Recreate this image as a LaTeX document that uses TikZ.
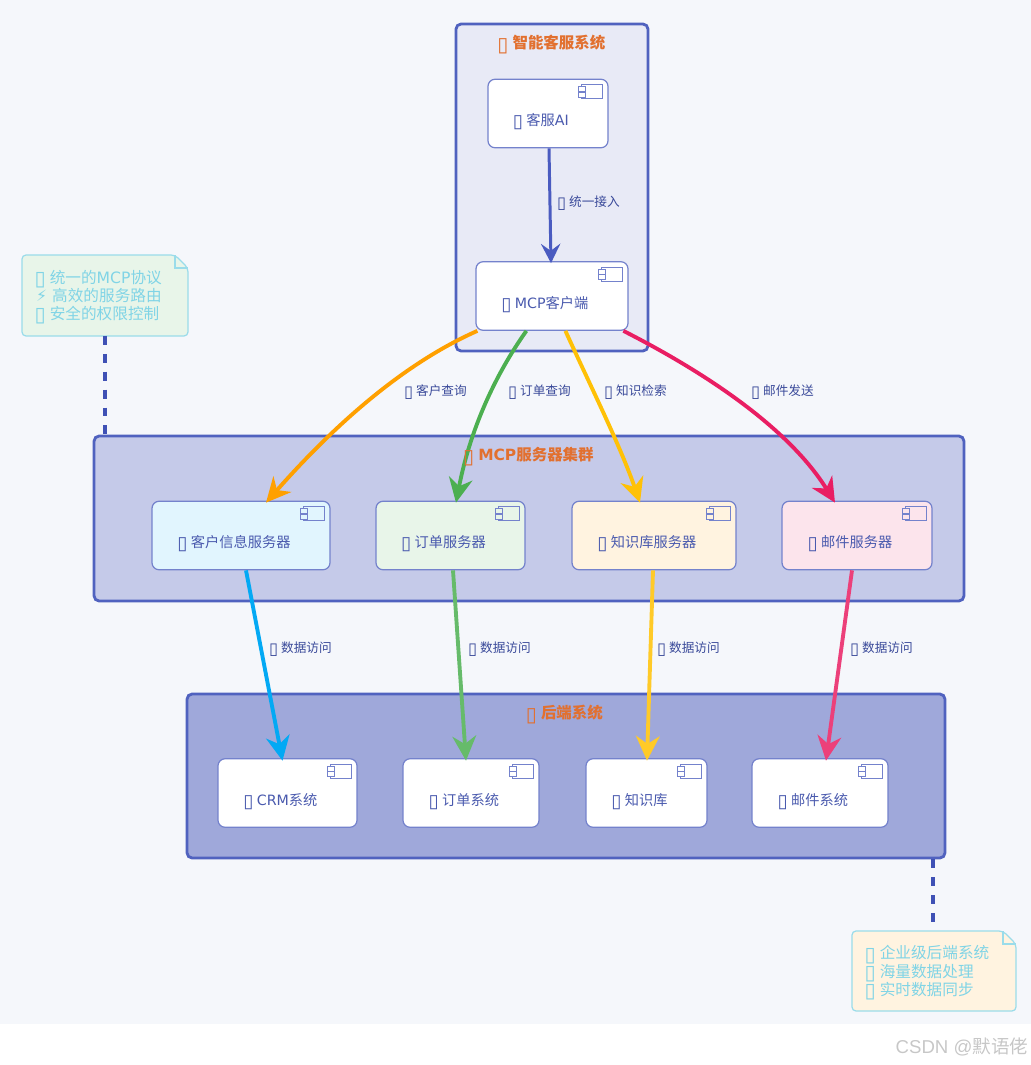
\documentclass[tikz,border=0pt]{standalone}
\usepackage{fontspec}
\setmainfont{DejaVu Sans}
\newfontfamily\cjk{Noto Sans CJK SC}
\newfontfamily\wmfont{Liberation Sans}
\usetikzlibrary{calc,positioning,arrows.meta}
\newcommand{\zh}[1]{{\cjk #1}}
\newcommand{\tofu}{\makebox[0.55em]{\smash{\raisebox{-0.14em}{\scalebox{1.3}{▯}}}}}
\definecolor{pagebg}{HTML}{F5F7FB}
\definecolor{groupline}{HTML}{5062BF}
\definecolor{boxline}{HTML}{7482CC}
\definecolor{boxtext}{HTML}{4A5AAE}
\definecolor{titletext}{HTML}{E2702F}
\definecolor{labeltext}{HTML}{3A4A9A}
\definecolor{noteline}{HTML}{9ADCEA}
\definecolor{notetext}{HTML}{80D4E6}
\definecolor{dashline}{HTML}{3F51B5}
\definecolor{grpai}{HTML}{E8EAF6}
\definecolor{grpcluster}{HTML}{C5CAE9}
\definecolor{grpbackend}{HTML}{9FA8DA}
\definecolor{srvblue}{HTML}{E1F5FE}
\definecolor{srvgreen}{HTML}{E8F5E9}
\definecolor{srvorange}{HTML}{FFF3E0}
\definecolor{srvpink}{HTML}{FCE4EC}
\definecolor{linkblue}{HTML}{4A5BC0}
\definecolor{linkorange}{HTML}{FFA000}
\definecolor{linkgreen}{HTML}{4CAF50}
\definecolor{linkamber}{HTML}{FFC107}
\definecolor{linkpink}{HTML}{E91E63}
\definecolor{datablue}{HTML}{03A9F4}
\definecolor{datagreen}{HTML}{66BB6A}
\definecolor{dataamber}{HTML}{FFCA28}
\definecolor{datapink}{HTML}{EC407A}
\tikzset{
  groupbox/.style={draw=groupline,line width=1.6pt,rounded corners=0.1cm,inner sep=0},
  grouptitle/.style={text=titletext,font=\fontsize{8.8}{10}\selectfont\bfseries},
  compbox/.style={draw=boxline,line width=0.7pt,rounded corners=0.14cm,inner sep=0,text=boxtext,
    font=\fontsize{8.1}{10}\selectfont,minimum height=1.37cm,text height=14.2pt,text depth=0pt,
    execute at begin node={\hspace*{-7.4pt}}},
  edgelabel/.style={text=labeltext,font=\fontsize{7.2}{9}\selectfont,inner sep=0},
  notebody/.style={draw=noteline,line width=0.7pt,rounded corners=0.08cm},
  notelabel/.style={text=notetext,font=\fontsize{8.9}{10.3}\selectfont,inner xsep=0.28cm,inner ysep=0,
    text width=2.76cm,align=left,minimum height=1.6cm},
  link/.style={line width=2.2pt,-{Stealth[length=14pt,width=13.5pt,inset=4.5pt]}},
  thinlink/.style={line width=1.7pt,-{Stealth[length=11pt,width=11pt,inset=4pt]}},
  notelink/.style={draw=dashline,line width=2.2pt,dash pattern=on 5.1pt off 5.1pt},
  compicon/.pic={
    \draw[draw=boxline,line width=0.55pt] (-21,0) rectangle (0,14);
    \draw[draw=boxline,line width=0.55pt,pic actions] (-24,2) rectangle (-17,7);
    \draw[draw=boxline,line width=0.55pt,pic actions] (-24,7.5) rectangle (-17,12.5);
  }
}
\begin{document}
\begin{tikzpicture}[x=0.02cm,y=-0.02cm]
\useasboundingbox (0,0) rectangle (1031,1065);
\fill[pagebg] (0,0) rectangle (1031,1024);
% groups
\node[groupbox,fill=grpai,minimum width=3.84cm,minimum height=6.54cm] (sysai) at (552,187.5) {};
\node[groupbox,fill=grpcluster,minimum width=17.4cm,minimum height=3.3cm] (cluster) at (529,518.5) {};
\node[groupbox,fill=grpbackend,minimum width=15.16cm,minimum height=3.28cm] (backend) at (566,776) {};
% components
\node[compbox,fill=white,minimum width=2.4cm] (kefuai) at (548,113.5) {\tofu{} \zh{客服}AI};
\node[compbox,fill=white,minimum width=3.04cm] (mcpclient) at (552,296) {\tofu{} MCP\zh{客户端}};
\node[compbox,fill=srvblue,minimum width=3.56cm] (srvcrm) at (241,535.5) {\tofu{} \zh{客户信息服务器}};
\node[compbox,fill=srvgreen,minimum width=2.98cm] (srvorder) at (450.5,535.5) {\tofu{} \zh{订单服务器}};
\node[compbox,fill=srvorange,minimum width=3.28cm] (srvkb) at (654,535.5) {\tofu{} \zh{知识库服务器}};
\node[compbox,fill=srvpink,minimum width=3cm] (srvmail) at (857,535.5) {\tofu{} \zh{邮件服务器}};
\node[compbox,fill=white,minimum width=2.78cm] (crm) at (287.5,793) {\tofu{} CRM\zh{系统}};
\node[compbox,fill=white,minimum width=2.72cm] (orderdb) at (471,793) {\tofu{} \zh{订单系统}};
\node[compbox,fill=white,minimum width=2.42cm] (kb) at (646.5,793) {\tofu{} \zh{知识库}};
\node[compbox,fill=white,minimum width=2.72cm] (maildb) at (820,793) {\tofu{} \zh{邮件系统}};
\foreach \n/\c in {kefuai/white,mcpclient/white,srvcrm/srvblue,srvorder/srvgreen,srvkb/srvorange,
    srvmail/srvpink,crm/white,orderdb/white,kb/white,maildb/white}
  \pic[fill=\c] at ($(\n.north east)+(-6,6)$) {compicon};
% notes
\draw[notebody,fill=srvgreen] (22,255) -- (175,255) -- (188,268) -- (188,336) -- (22,336) -- cycle;
\draw[notebody,sharp corners] (175,255) -- (175,268) -- (188,268);
\node[notelabel] (noteleft) at (105,295.5) {\tofu{} \zh{统一的}MCP\zh{协议}\\⚡ \zh{高效的服务路由}\\\tofu{} \zh{安全的权限控制}};
\draw[notebody,fill=srvorange] (852,931) -- (1003,931) -- (1016,944) -- (1016,1011) -- (852,1011) -- cycle;
\draw[notebody,sharp corners] (1003,931) -- (1003,944) -- (1016,944);
\node[notelabel] (noteright) at (935,971) {\tofu{} \zh{企业级后端系统}\\\tofu{} \zh{海量数据处理}\\\tofu{} \zh{实时数据同步}};
\draw[notelink] (noteleft.south) -- (noteleft.south |- cluster.north);
\draw[notelink] ($(backend.south -| noteright.north)+(-2,0)$) -- ($(noteright.north)+(-2,0)$);
% links
\draw[thinlink,draw=linkblue] ($(kefuai.south)+(1,0)$) -- ($(mcpclient.north)+(-1,2)$);
\draw[link,draw=linkorange] ($(mcpclient.south west)+(2,0)$) .. controls (400,365) and (330,430) .. ($(srvcrm.north)+(25,2)$);
\draw[link,draw=linkgreen] ($(mcpclient.south west)+(51,0)$) .. controls (495,375) and (470,430) .. ($(srvorder.north)+(5.5,2)$);
\draw[link,draw=linkamber] ($(mcpclient.south west)+(90,0)$) .. controls (590,385) and (620,445) .. ($(srvkb.north)+(-14,2)$);
\draw[link,draw=linkpink] ($(mcpclient.south west)+(148,0)$) .. controls (710,375) and (790,430) .. ($(srvmail.north)+(-22,2)$);
\draw[link,draw=datablue] ($(srvcrm.south)+(5,0)$) -- ($(crm.north)+(-5,2.5)$);
\draw[link,draw=datagreen] ($(srvorder.south)+(2.5,0)$) -- ($(orderdb.north)+(-5,2.5)$);
\draw[link,draw=dataamber] ($(srvkb.south)+(-1,0)$) -- ($(kb.north)+(0.5,2.5)$);
\draw[link,draw=datapink] ($(srvmail.south)+(-5,0)$) -- ($(maildb.north)+(6,2.5)$);
% titles and labels
\node[grouptitle] (sysaititle) at (552,43) {\tofu{} \zh{智能客服系统}};
\node[grouptitle] (clustertitle) at (529,455) {\tofu{} MCP\zh{服务器集群}};
\node[grouptitle] (backendtitle) at (565,713) {\tofu{} \zh{后端系统}};
\node[edgelabel] (lbljoin) at (589,202) {\tofu{} \zh{统一接入}};
\node[edgelabel] (lblcust) at (436,391) {\tofu{} \zh{客户查询}};
\node[edgelabel] (lblorder) at (540,391) {\tofu{} \zh{订单查询}};
\node[edgelabel] (lblkb) at (636,391) {\tofu{} \zh{知识检索}};
\node[edgelabel] (lblmail) at (783,391) {\tofu{} \zh{邮件发送}};
\node[edgelabel] (lbldata1) at (301,648) {\tofu{} \zh{数据访问}};
\node[edgelabel] (lbldata2) at (500,648) {\tofu{} \zh{数据访问}};
\node[edgelabel] (lbldata3) at (689,648) {\tofu{} \zh{数据访问}};
\node[edgelabel] (lbldata4) at (882,648) {\tofu{} \zh{数据访问}};
\node[text=black!22,font=\wmfont\fontsize{10.6}{12}\selectfont,inner sep=0] (watermark) at (962,1047) {CSDN @\zh{默语佬}};
\end{tikzpicture}
\end{document}
